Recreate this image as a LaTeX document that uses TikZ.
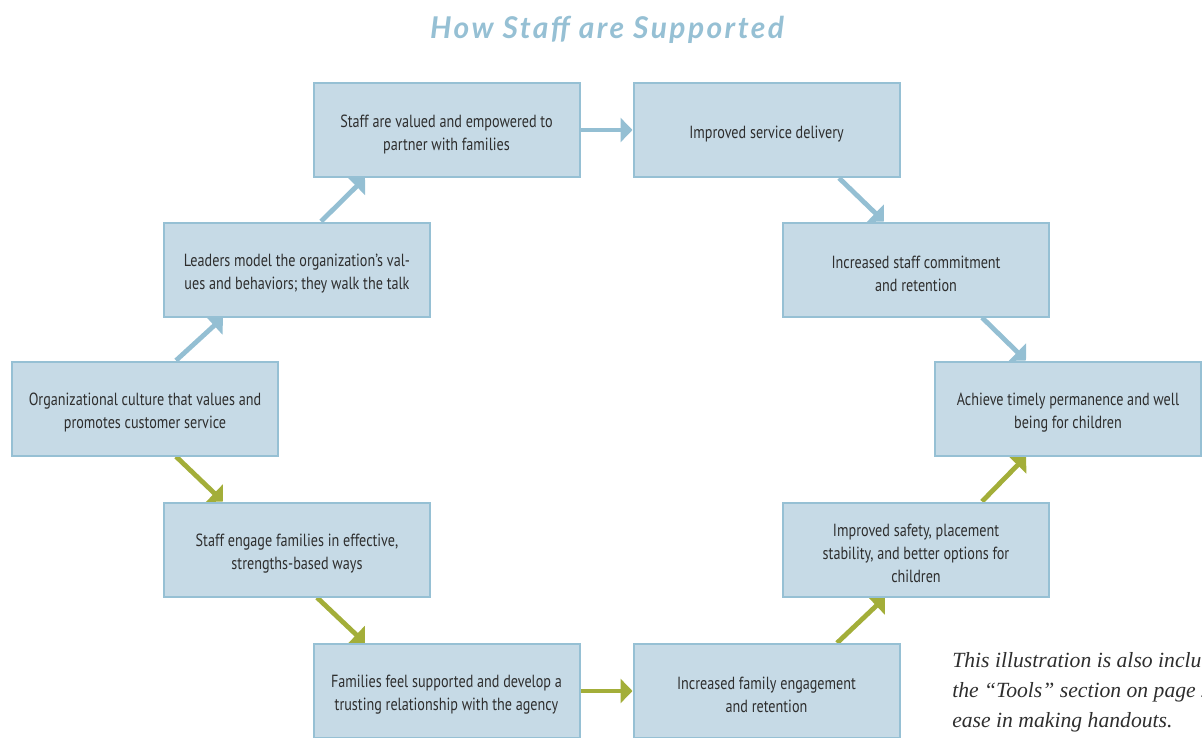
\documentclass[tikz,border=0pt]{standalone}
\usepackage{fontspec}
\setmainfont{PT Sans}
\newfontfamily\boxfont[FakeStretch=0.805]{PT Sans}
\newfontfamily\titlefont[LetterSpace=8]{Lato}
\newfontfamily\notefont{Liberation Serif}
\usetikzlibrary{arrows.meta,calc}
\definecolor{boxfill}{HTML}{C6DAE6}
\definecolor{boxline}{HTML}{96C0D4}
\definecolor{bluearrow}{HTML}{94BFD3}
\definecolor{greenarrow}{HTML}{A3AE39}
\definecolor{txt}{HTML}{2E2E2E}
\definecolor{titleblue}{HTML}{96C0D4}
\newcommand{\toppad}{\rule{0pt}{15.5pt}}
\pgfdeclarelayer{bg}\pgfsetlayers{bg,main}
\begin{document}
\begin{tikzpicture}[x=0.75pt,y=-0.75pt,
  stepbox/.style={draw=boxline, fill=boxfill, line width=1.5pt,
    minimum width=199.5pt, minimum height=70.5pt, inner sep=0pt,
    align=center, text=txt, font=\boxfont\fontsize{13.2}{17.25}\selectfont},
  bluearr/.style={draw=bluearrow, line width=3.6pt, -{Triangle[length=9pt,width=18pt]}},
  greenarr/.style={bluearr, draw=greenarrow},
]
\useasboundingbox (0,0) rectangle (1202,738);
\clip (0,0) rectangle (1202,738);

\node[font=\titlefont\bfseries\itshape\fontsize{22.5}{26}\selectfont, text=titleblue, anchor=base] (title) at (607,38.5) {How Staff are Supported};

\node[stepbox] (sv)  at (446.5,130)   {\toppad Staff are valued and empowered to\\partner with families};
\node[stepbox] (isd) at (766.5,130)   {\toppad Improved service delivery};
\node[stepbox] (isc) at (916,269.5)   {\toppad Increased staff commitment\\and retention};
\node[stepbox] (atp) at (1068,408.5)  {\toppad Achieve timely permanence and well\\being for children};
\node[stepbox] (isp) at (916,549.5)   {\toppad Improved safety, placement\\stability, and better options for\\children};
\node[stepbox] (ife) at (766.5,691)   {\toppad Increased family engagement\\and retention};
\node[stepbox] (ffs) at (446.5,691)   {\toppad Families feel supported and develop a\\trusting relationship with the agency};
\node[stepbox] (sef) at (297,549.5)   {\toppad Staff engage families in effective,\\strengths-based ways};
\node[stepbox] (org) at (145,408.5)   {\toppad Organizational culture that values and\\promotes customer service};
\node[stepbox] (lm)  at (297,269.5)   {\toppad Leaders model the organization’s val-\\ues and behaviors; they walk the talk};

\begin{pgfonlayer}{bg}
\draw[bluearr] ($(org.north west)+(165,0)$) -- ($(lm.south west)+(60,0)$);
\draw[bluearr] ($(lm.north west)+(158,0)$) -- ($(sv.south west)+(52.5,0)$);
\draw[bluearr] (sv.east) -- (isd.west);
\draw[bluearr] ($(isd.south west)+(206.5,0)$) -- ($(isc.north west)+(102,0)$);
\draw[bluearr] ($(isc.south west)+(200,0)$) -- ($(atp.north west)+(92,0)$);
\draw[greenarr] ($(org.south west)+(165,0)$) -- ($(sef.north west)+(60,0)$);
\draw[greenarr] ($(sef.south west)+(154,0)$) -- ($(ffs.north west)+(52.5,0)$);
\draw[greenarr] (ffs.east) -- (ife.west);
\draw[greenarr] ($(ife.north west)+(204.5,0)$) -- ($(isp.south west)+(103,0)$);
\draw[greenarr] ($(isp.north west)+(200,0)$) -- ($(atp.south west)+(92,0)$);
\end{pgfonlayer}

\node[anchor=north west, inner sep=0pt, align=left, text=txt,
  font=\notefont\itshape\fontsize{16.25}{22.5}\selectfont] (note) at (952,652)
  {This illustration is also inclu\\the “Tools” section on page 2\\ease in making handouts.};
\end{tikzpicture}
\end{document}
